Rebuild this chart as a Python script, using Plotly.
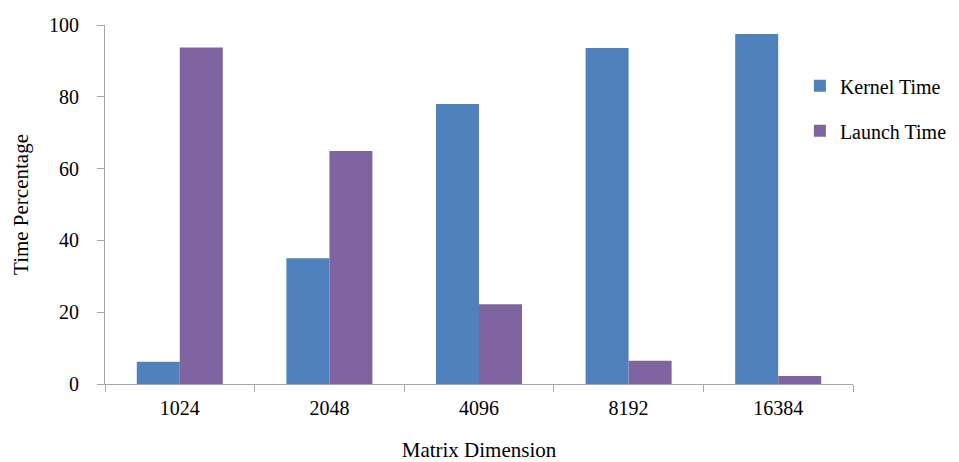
import plotly.graph_objects as go

categories = ["1024", "2048", "4096", "8192", "16384"]
kernel_time = [6.2, 35.0, 78.0, 93.6, 97.5]
launch_time = [93.7, 64.9, 22.2, 6.5, 2.2]
y_ticks = [0, 20, 40, 60, 80, 100]

FONT = "Liberation Serif"
AXIS = "#a6a6a6"

fig = go.Figure()
fig.add_trace(go.Bar(x=categories, y=kernel_time, name="Kernel Time",
                     marker=dict(color="#4F81BD", line=dict(width=0)),
                     legendgroup="k"))
fig.add_trace(go.Bar(x=categories, y=launch_time, name="Launch Time",
                     marker=dict(color="#8064A2", line=dict(width=0)),
                     legendgroup="l"))

fig.update_layout(
    width=959, height=462,
    margin=dict(l=105, r=106, t=25, b=78, autoexpand=False),
    paper_bgcolor="white", plot_bgcolor="white",
    barmode="group", bargap=0.425, bargroupgap=0,
    font=dict(family=FONT, size=20, color="black"),
    showlegend=True,
    legend=dict(x=0.929, y=0.885, xanchor="left", yanchor="top",
                font=dict(family=FONT, size=20), tracegroupgap=16,
                bgcolor="rgba(0,0,0,0)", itemwidth=30),
    xaxis=dict(
        showline=True, linecolor=AXIS, linewidth=1,
        ticks="outside", ticklen=7, tickcolor=AXIS,
        tickson="boundaries", ticklabelstandoff=6,
        tickfont=dict(family=FONT, size=20),
        title=dict(text="Matrix Dimension", font=dict(family=FONT, size=21), standoff=26),
        showgrid=False,
    ),
    yaxis=dict(
        range=[0, 100], tickvals=y_ticks,
        showline=True, linecolor=AXIS, linewidth=1,
        ticks="outside", ticklen=7, tickcolor=AXIS,
        ticklabelstandoff=14,
        tickfont=dict(family=FONT, size=20),
        title=dict(text="Time Percentage", font=dict(family=FONT, size=21), standoff=14),
        showgrid=False, zeroline=False,
    ),
)

fig.write_html("out.html")
